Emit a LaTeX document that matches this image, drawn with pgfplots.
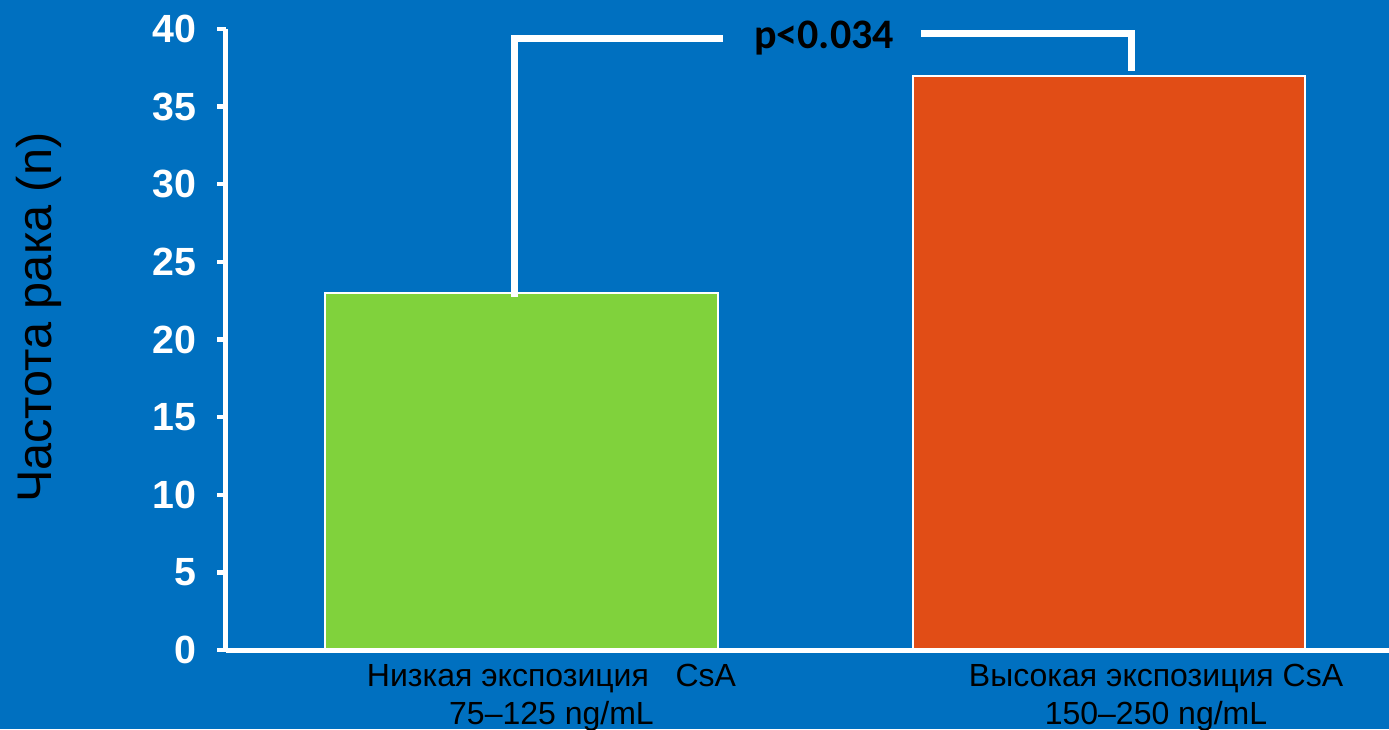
\documentclass[border=0pt]{standalone}
\usepackage{pgfplots}
\pgfplotsset{compat=1.18}
\usepackage{fontspec}
\setmainfont{Liberation Sans}
\newfontfamily\calibri{Carlito}
\definecolor{slidebg}{HTML}{0070C0}
\definecolor{lowbar}{HTML}{80D23C}
\definecolor{highbar}{HTML}{E14D16}
\begin{document}
\begin{tikzpicture}[x=0.75pt,y=0.75pt]
\useasboundingbox (0,0) rectangle (1389,729);
\fill[slidebg] (0,0) rectangle (1389,729);
\begin{axis}[
  at={(169.5pt,59.25pt)}, anchor=south west,
  scale only axis, width=872.25pt, height=465.75pt,
  xmin=226, xmax=1389, ymin=0, ymax=40,
  axis x line=bottom, axis y line=left,
  axis line style={white, line width=3.75pt, -},
  every outer x axis line/.append style={-},
  every outer y axis line/.append style={-},
  axis on top,
  clip=false,
  ytick={0,5,...,40},
  tick align=outside,
  major tick length=6.75pt,
  ytick style={white, line width=3.2pt},
  xtick style={draw=none},
  /pgf/number format/assume math mode=true,
  yticklabel style={text=white, xshift=-12pt, font=\bfseries\fontsize{29.5}{32}\selectfont},
  xtick={551.5,1156},
  xticklabels={{Низкая экспозиция\ \ \ CsA\\75–125 ng/mL},
               {Высокая экспозиция CsA\\150–250 ng/mL}},
  xticklabel style={align=center, text=black, font=\fontsize{24}{29}\selectfont},
  ylabel={Частота рака (n)},
  ylabel style={font=\fontsize{36.5}{40}\selectfont, text=black,
                at={(axis description cs:-0.161,0.535)}, anchor=center},
]
\addplot[ybar, bar shift=0pt, bar width=393, fill=lowbar, draw=white, line width=1.5pt]
  coordinates {(521.5,23)};
\addplot[ybar, bar shift=0pt, bar width=392, fill=highbar, draw=white, line width=1.5pt]
  coordinates {(1109,37)};
% significance bracket
\draw[white, line width=5.25pt] (axis cs:514,22.74) -- (axis cs:514,39.42) -- (axis cs:723,39.42);
\draw[white, line width=5.25pt] (axis cs:921,39.68) -- (axis cs:1131,39.68) -- (axis cs:1131,37.29);
\node[font=\calibri\bfseries\fontsize{31.5}{34}\selectfont, text=black] at (axis cs:824,39.42) {p<0.034};
\end{axis}
\end{tikzpicture}
\end{document}
